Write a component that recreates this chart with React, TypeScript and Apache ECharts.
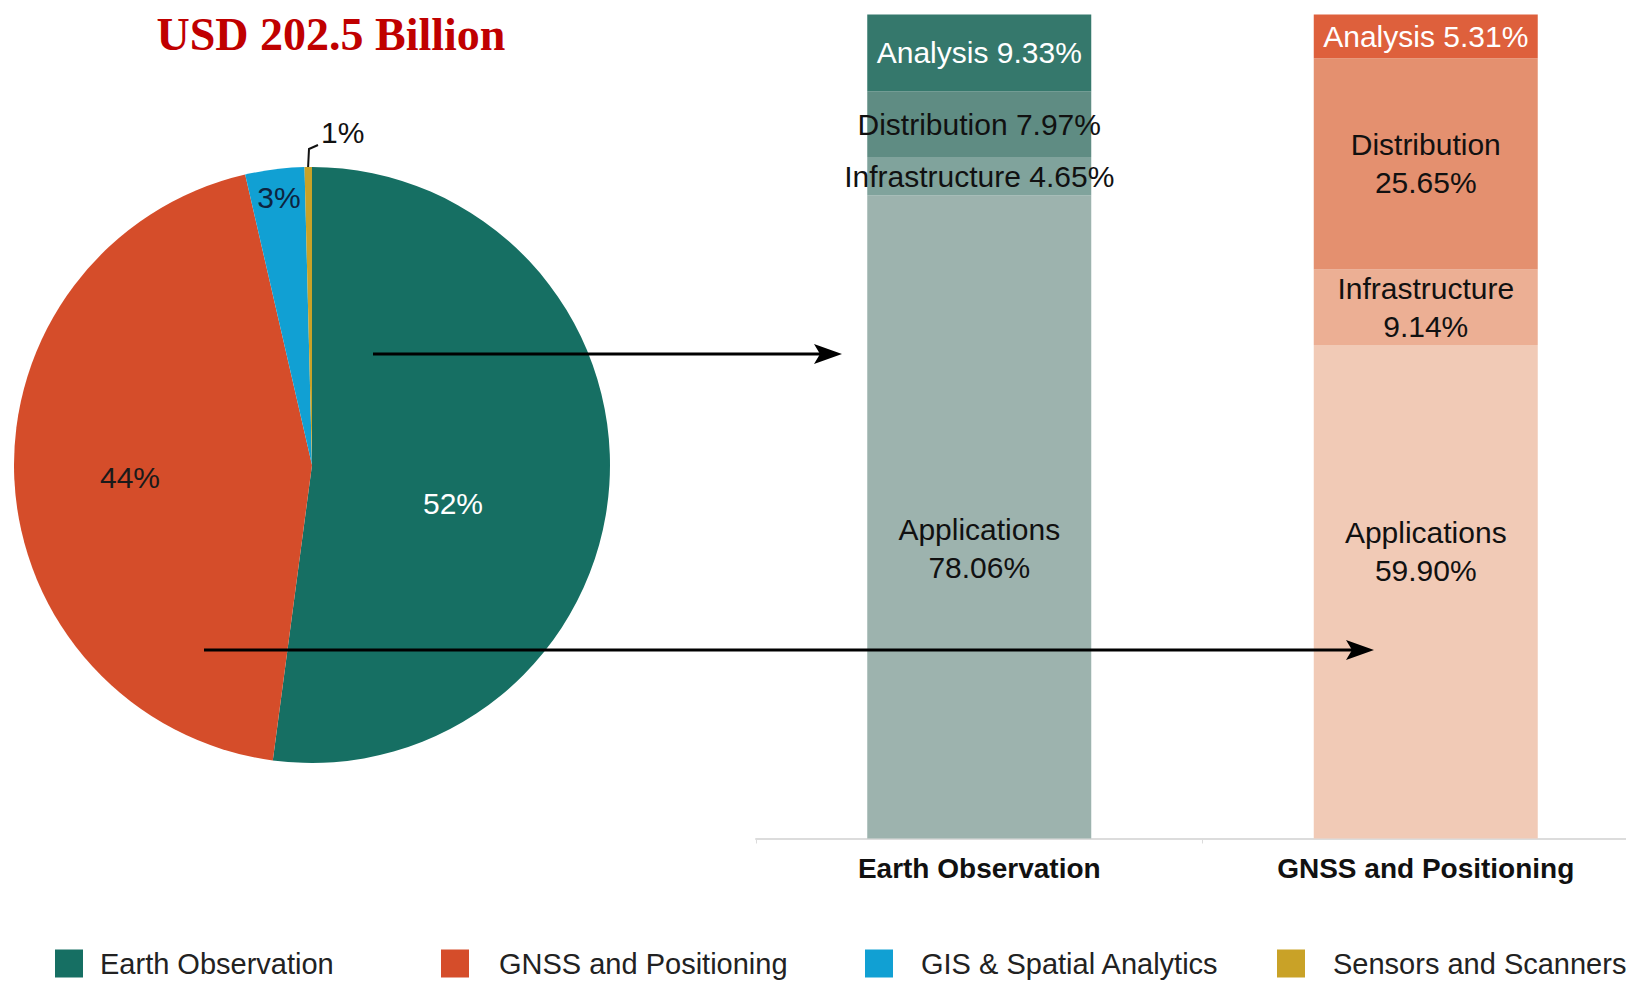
import React, { useEffect, useRef } from "react";
import * as echarts from "echarts";

// ---------- data ----------
const titleText = "USD 202.5 Billion";
const pieNames = ["Earth Observation", "GNSS and Positioning", "GIS & Spatial Analytics", "Sensors and Scanners"];
const pieValues = [52.1, 44.3, 3.2, 0.4];
const pieLabels = ["52%", "44%", "3%", "1%"];

const barCategories = ["Earth Observation", "GNSS and Positioning"];
const segmentNames = ["Applications", "Infrastructure", "Distribution", "Analysis"];
const applications = [78.06, 59.9];
const infrastructure = [4.65, 9.14];
const distribution = [7.97, 25.65];
const analysis = [9.33, 5.31];

// ---------- styles ----------
const SANS = '"Liberation Sans", Arial, sans-serif';
const pieColors = ["#166f63", "#d54d2a", "#11a0d3", "#c9a227"];
const pieLabelColors = ["#ffffff", "#1a1a1a", "#0d2440", "#111111"];
const eoColors = ["#9db3ae", "#80a39c", "#5f8c83", "#35786c"];
const gnssColors = ["#f1cab6", "#ecaf94", "#e4906f", "#de603c"];
const labelWrap = [
  [true, true],
  [false, true],
  [false, true],
  [false, false],
];
const labelOffsets = [
  [[0, 32], [0, -40]],
  [[0, 0], [0, 0]],
  [[0, 0], [0, 0]],
  [[0, 0], [0, 0]],
];
const legendLefts = [55, 441, 865, 1277];
const legendPads = [12, 25, 23, 23];

const CX = 312;
const CY = 465;
const R = 298;
const CHART_W = 1660;

export default function App() {
  const ref = useRef<HTMLDivElement>(null);
  useEffect(() => {
    document.body.style.margin = "0";
    document.body.style.overflow = "hidden";
    document.documentElement.style.overflow = "hidden";
    if (!ref.current) return;
    const chart = echarts.init(ref.current, null, { renderer: "svg" });
    const segData = [applications, infrastructure, distribution, analysis];

    const barSeries = segmentNames.map((name, si) => ({
      type: "bar",
      name,
      stack: "total",
      barWidth: 224,
      data: segData[si].map((v, ci) => ({
        value: v,
        itemStyle: { color: ci === 0 ? eoColors[si] : gnssColors[si] },
        label: { offset: labelOffsets[si][ci] },
      })),
      label: {
        show: true,
        position: "inside",
        color: si === 3 ? "#ffffff" : "#111111",
        fontFamily: SANS,
        fontSize: 30,
        lineHeight: 38,
        align: "center",
        formatter: (p: any) =>
          p.seriesName + (labelWrap[si][p.dataIndex] ? "\n" : " ") + Number(p.value).toFixed(2) + "%",
      },
      z: 2,
    }));

    const labelPos: Record<number, any> = {
      0: { x: 453, y: 503, align: "center", verticalAlign: "middle" },
      1: { x: 130, y: 477, align: "center", verticalAlign: "middle" },
      2: { x: 279, y: 197, align: "center", verticalAlign: "middle" },
      3: {
        x: 321,
        y: 132,
        align: "left",
        verticalAlign: "middle",
        labelLinePoints: [
          [CX - 4, CY - R + 2],
          [CX - 3, CY - R - 18],
          [CX + 6, CY - R - 22],
        ],
      },
    };

    const option: any = {
      animation: false,
      backgroundColor: "#ffffff",
      legend: pieNames.map((n, i) => ({
        data: [n],
        left: legendLefts[i],
        top: 949,
        padding: 0,
        icon: "rect",
        itemWidth: 28,
        itemHeight: 28,
        selectedMode: false,
        textStyle: {
          fontFamily: SANS,
          fontSize: 29,
          color: "#222222",
          padding: [0, 0, 0, legendPads[i]],
        },
      })),
      grid: { left: 756, top: 14.5, width: 893, height: 824, containLabel: false },
      xAxis: {
        type: "category",
        data: barCategories,
        axisLine: { show: true, lineStyle: { color: "#dcdcdc", width: 2 } },
        axisTick: { show: true, length: 5, lineStyle: { color: "#dcdcdc" } },
        axisLabel: {
          interval: 0,
          hideOverlap: false,
          margin: 16,
          fontFamily: SANS,
          fontWeight: "bold",
          fontSize: 28,
          color: "#111111",
        },
      },
      yAxis: { type: "value", min: 0, max: 100, show: false },
      series: [
        {
          type: "pie",
          name: "Market",
          center: [CX, CY],
          radius: R,
          startAngle: 90,
          clockwise: true,
          avoidLabelOverlap: false,
          data: pieNames.map((n, i) => ({
            name: n,
            value: pieValues[i],
            itemStyle: { color: pieColors[i] },
            label: {
              show: true,
              position: i === 3 ? "outside" : "inside",
              color: pieLabelColors[i],
              formatter: pieLabels[i],
              fontFamily: SANS,
              fontSize: 30,
            },
            labelLine: {
              show: i === 3,
              lineStyle: { color: "#111111", width: 2 },
            },
          })),
          labelLayout: (p: any) => labelPos[p.dataIndex],
          z: 1,
        },
        ...barSeries,
      ],
      graphic: [
        {
          type: "text",
          x: 331,
          y: 34,
          z: 100,
          style: {
            text: titleText,
            fill: "#c00000",
            fontFamily: '"Liberation Serif", "DejaVu Serif", serif',
            fontWeight: "bold",
            fontSize: 46,
            textAlign: "center",
            textVerticalAlign: "middle",
          },
        },
        {
          type: "line",
          z: 100,
          shape: { x1: 373, y1: 354, x2: 825, y2: 354 },
          style: { stroke: "#000000", lineWidth: 3 },
        },
        {
          type: "polygon",
          z: 100,
          shape: { points: [[842, 354], [814, 344], [820, 354], [814, 364]] },
          style: { fill: "#000000" },
        },
        {
          type: "line",
          z: 100,
          shape: { x1: 204, y1: 650, x2: 1357, y2: 650 },
          style: { stroke: "#000000", lineWidth: 3 },
        },
        {
          type: "polygon",
          z: 100,
          shape: { points: [[1374, 650], [1346, 640], [1352, 650], [1346, 660]] },
          style: { fill: "#000000" },
        },
      ],
    };
    chart.setOption(option);
    return () => chart.dispose();
  }, []);
  return <div ref={ref} style={{ width: CHART_W, height: 985 }} />;
}
